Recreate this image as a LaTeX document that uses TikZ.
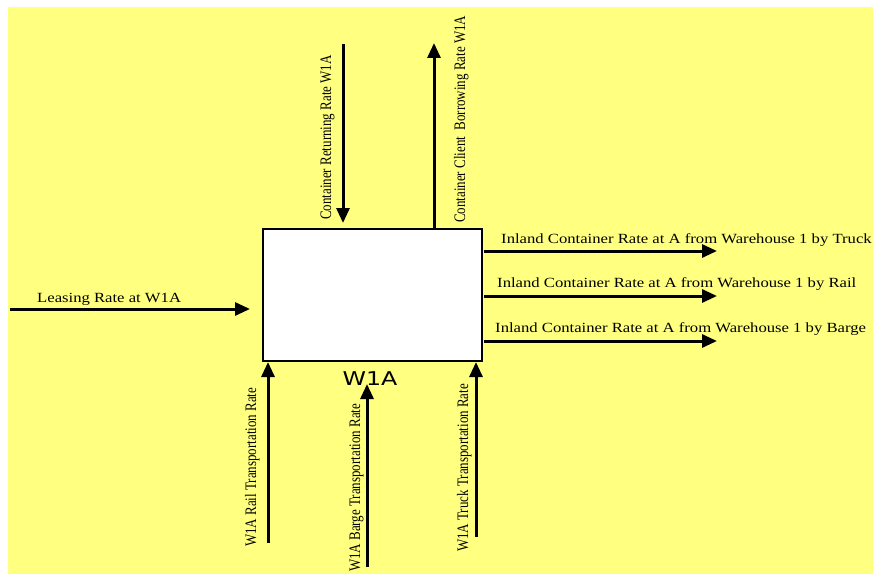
\documentclass[tikz,border=0pt]{standalone}
\usepackage{fontspec}
\setmainfont{Liberation Serif}
\newfontfamily\hfont[FakeStretch=1.19]{Liberation Serif}
\newfontfamily\vfont[FakeStretch=0.81]{Liberation Serif}
\newfontfamily\boxfont[FakeStretch=1.25]{DejaVu Sans}
\usetikzlibrary{arrows.meta}
\definecolor{bgyellow}{RGB}{255,255,128}
\begin{document}
\begin{tikzpicture}[x=1pt,y=-1pt,
  arr/.style={line width=3pt, -{Triangle[length=15pt,width=13pt]}},
  hlabel/.style={font=\hfont\fontsize{14}{16}\selectfont, inner sep=0pt, anchor=base west},
  vlabel/.style={font=\vfont\fontsize{16}{18}\selectfont, inner sep=0pt, anchor=base west, rotate=90},
  boxstyle/.style={draw, line width=1.5pt, fill=white, minimum width=219pt, minimum height=132pt, anchor=north west, inner sep=0pt},
]
\useasboundingbox (0,0) rectangle (873,575);
\fill[white] (0,0) rectangle (873,575);
\fill[bgyellow] (8,7) rectangle (873,574);

% main box
\node[boxstyle] (box) at (262,228) {};
\node[font=\boxfont\fontsize{19}{20}\selectfont, inner sep=0pt] (boxname) at (370,379) {W1A};

% coordinates for free ends
\coordinate (leaseS) at (10,309);
\coordinate (leaseE) at (250,309);
\coordinate (retS) at (343,44);
\coordinate (retE) at (343,223);
\coordinate (borS) at (434,228);
\coordinate (borE) at (434,43);
\coordinate (trS) at (484,251);
\coordinate (trE) at (717,251);
\coordinate (raS) at (484,296);
\coordinate (raE) at (717,296);
\coordinate (baS) at (484,341);
\coordinate (baE) at (717,341);
\coordinate (brS) at (268,543);
\coordinate (brE) at (268,362);
\coordinate (bbS) at (367,567);
\coordinate (bbE) at (367,384);
\coordinate (btS) at (476,537);
\coordinate (btE) at (476,362);

% arrows
\draw[arr] (leaseS) -- (leaseE);
\draw[arr] (retS) -- (retE);
\draw[arr] (borS) -- (borE);
\draw[arr] (trS) -- (trE);
\draw[arr] (raS) -- (raE);
\draw[arr] (baS) -- (baE);
\draw[arr] (brS) -- (brE);
\draw[arr] (bbS) -- (bbE);
\draw[arr] (btS) -- (btE);

% labels
\node[hlabel] (lLease) at (37,302) {Leasing Rate at W1A};
\node[hlabel] (lTruck) at (501,243) {Inland Container Rate at A from Warehouse 1 by Truck};
\node[hlabel] (lRail) at (497,287) {Inland Container Rate at A from Warehouse 1 by Rail};
\node[hlabel] (lBarge) at (495,332) {Inland Container Rate at A from Warehouse 1 by Barge};

\node[vlabel] (lRet) at (331,220) {Container Returning Rate W1A};
\node[vlabel] (lBor) at (465,223) {Container Client\ \ Borrowing Rate W1A};
\node[vlabel] (lBR) at (256,547) {W1A Rail Transportation Rate};
\node[vlabel] (lBB) at (360,572) {W1A Barge Transportation Rate};
\node[vlabel] (lBT) at (468,552) {W1A Truck Transportation Rate};
\end{tikzpicture}
\end{document}
